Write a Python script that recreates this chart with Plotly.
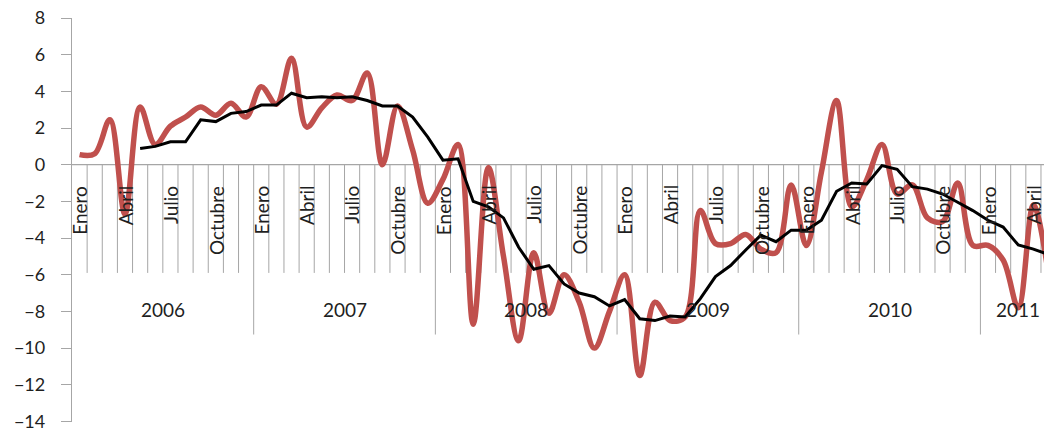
import plotly.graph_objects as go

# ---- data -------------------------------------------------------------
years = [2006, 2007, 2008, 2009, 2010, 2011]
month_names = ["Enero", "Febrero", "Marzo", "Abril", "Mayo", "Junio",
               "Julio", "Agosto", "Septiembre", "Octubre", "Noviembre", "Diciembre"]
n_months = 65  # Enero 2006 .. Mayo 2011

serie_mensual = [
    0.55, 0.6, 2.45, -2.7, 3.15, 1.1, 2.1, 2.6, 3.15, 2.7, 3.35, 2.6,
    4.25, 3.3, 5.8, 2.05, 3.1, 3.8, 3.5, 5.0, 0.0, 3.2, 0.8, -2.1,
    -0.8, 1.1, -8.7, -0.15, -5.0, -9.6, -4.8, -8.1, -6.0, -7.5, -10.0, -8.0,
    -6.0, -11.5, -7.5, -8.5, -8.3, -2.5, -4.3, -4.3, -3.8, -4.6, -4.8, -1.1,
    -4.4, -0.4, 3.5, -2.3, -0.8, 1.1, -1.6, -1.1, -2.9, -3.1, -1.0, -4.4,
    -4.4, -5.2, -7.8, -2.2, -6.0,
]
tendencia = [
    None, None, None, None, 0.88, 1.0, 1.25, 1.25, 2.45, 2.35, 2.8, 2.9,
    3.25, 3.25, 3.9, 3.65, 3.7, 3.65, 3.7, 3.5, 3.2, 3.2, 2.6, 1.5,
    0.25, 0.32, -2.0, -2.3, -2.9, -4.5, -5.7, -5.5, -6.5, -7.0, -7.2, -7.7,
    -7.35, -8.4, -8.5, -8.25, -8.3, -7.3, -6.1, -5.5, -4.65, -3.84, -4.2, -3.57,
    -3.57, -3.03, -1.45, -1.0, -1.05, -0.05, -0.25, -1.2, -1.33, -1.6, -2.05, -2.5,
    -3.03, -3.4, -4.38, -4.6, -4.9,
]
y_ticks = list(range(-14, 9, 2))

# ---- figure -----------------------------------------------------------
x = list(range(n_months))
grey = "#a6a6a6"
txt = "#1f1f1f"
font_family = "Lato, Open Sans, sans-serif"

fig = go.Figure()
fig.add_trace(go.Scatter(
    x=x, y=serie_mensual, mode="lines",
    line=dict(color="#c0504d", width=5.5, shape="spline", smoothing=1.0),
    hoverinfo="skip", showlegend=False,
))
fig.add_trace(go.Scatter(
    x=x, y=tendencia, mode="lines",
    line=dict(color="#000000", width=3),
    hoverinfo="skip", showlegend=False,
))

shapes = []
annotations = []
# category boundaries (month tick lines, longer at year changes)
for i in range(1, n_months):
    is_year = (i % 12 == 0)
    shapes.append(dict(
        type="line", xref="x", yref="y", layer="below",
        x0=i - 0.5, x1=i - 0.5, y0=0, y1=-9.26 if is_year else -5.9,
        line=dict(color=grey, width=1),
    ))
# horizontal category axis at y = 0
shapes.append(dict(
    type="line", xref="paper", yref="y", layer="below",
    x0=0, x1=1, y0=0, y1=0, line=dict(color=grey, width=1.3),
))

# month labels every three months
for i in range(0, n_months, 3):
    annotations.append(dict(
        x=i, y=0, xref="x", yref="y", text=month_names[i % 12],
        textangle=-90, showarrow=False, xanchor="center", yanchor="top",
        yshift=-19, xshift=0, font=dict(family=font_family, size=19, color=txt),
    ))
# year labels centred on their months
for k, yr in enumerate(years):
    first = k * 12
    last = min(first + 11, n_months - 1)
    annotations.append(dict(
        x=(first + last) / 2, y=0, xref="x", yref="y", text=str(yr),
        showarrow=False, xanchor="center", yanchor="middle", yshift=-145,
        font=dict(family=font_family, size=19, color=txt),
    ))

fig.update_layout(
    width=1044, height=432,
    margin=dict(l=72, r=0, t=18, b=10),
    paper_bgcolor="white", plot_bgcolor="white",
    shapes=shapes, annotations=annotations,
    xaxis=dict(range=[-0.5, 63.7], showgrid=False, zeroline=False, automargin=False,
               showticklabels=False, showline=False, ticks=""),
    yaxis=dict(range=[-14.03, 8], tickvals=y_ticks, showgrid=False, zeroline=False,
               automargin=False,
               showline=True, linecolor=grey, linewidth=1.3,
               ticks="outside", ticklen=10, tickcolor=grey, tickwidth=1.3,
               ticklabelstandoff=12, ticklabeloverflow="allow",
               tickfont=dict(family=font_family, size=18, color=txt)),
)

fig.write_html("out.html")
